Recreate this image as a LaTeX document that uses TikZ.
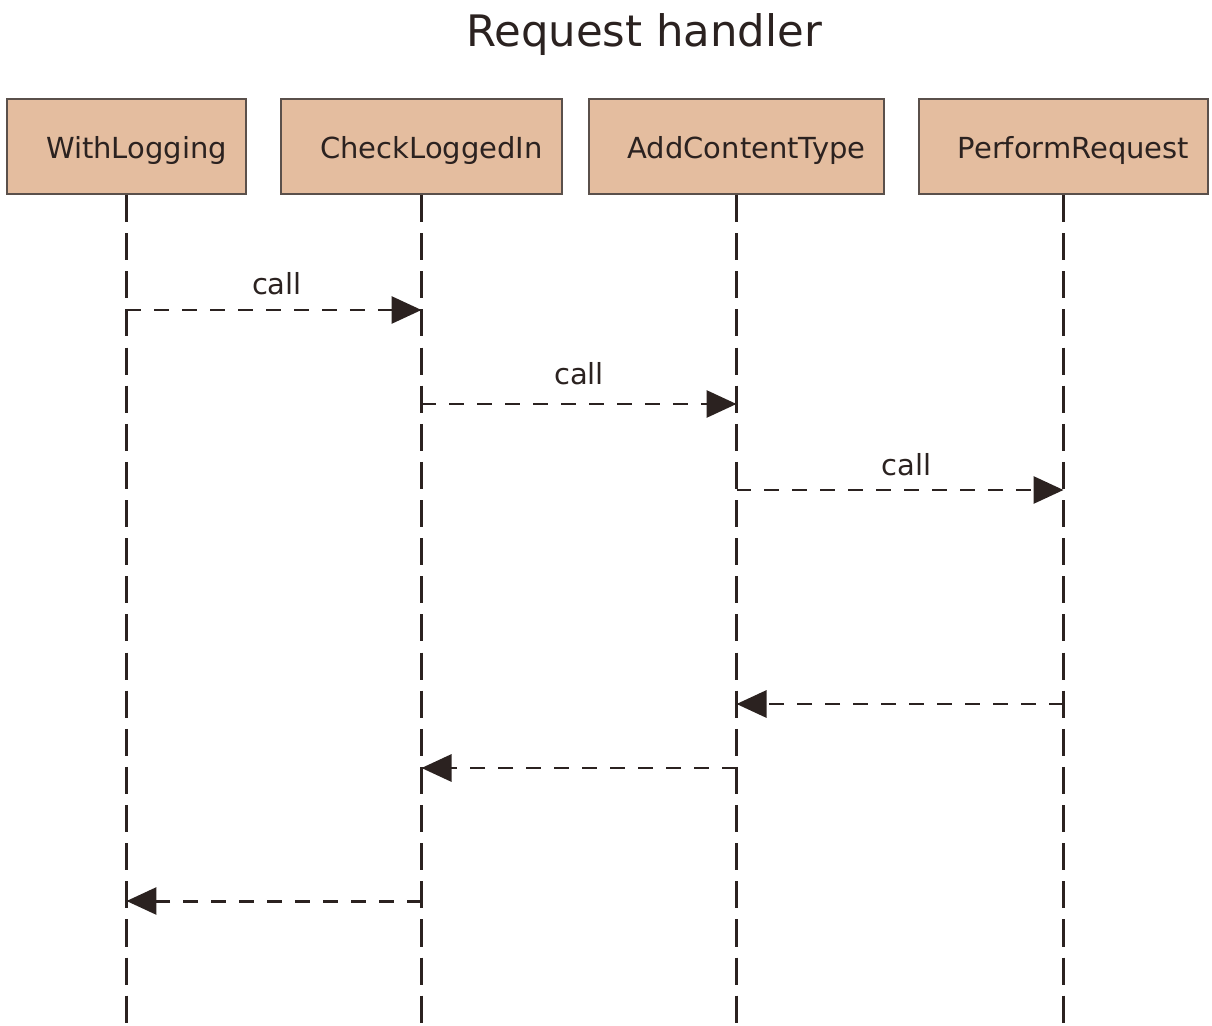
\documentclass[tikz,border=0pt]{standalone}
\usepackage{fontspec}
\setmainfont{DejaVu Sans}
\usetikzlibrary{arrows.meta}
\definecolor{boxfill}{HTML}{E4BD9F}
\definecolor{boxline}{HTML}{5A504B}
\definecolor{ink}{HTML}{2B2220}
\begin{document}
\begin{tikzpicture}[x=0.02cm, y=-0.02cm,
	actor/.style={fill=boxfill, draw=boxline, line width=1.2pt, minimum height=1.9cm, inner sep=0pt,
		text height=0.55cm, text depth=0.05cm,
		execute at begin node=\hspace*{0.4cm}, font=\fontsize{16.5}{20}\selectfont, text=ink},
	lifeline/.style={draw=ink, line width=1.6pt, dash pattern=on 15.4pt off 6.3pt},
	msg/.style={draw=ink, line width=1.7pt, dash pattern=on 8.5pt off 7.4pt, -{Triangle[length=0.6cm, width=0.54cm]}},
	callnote/.style={font=\fontsize{16.5}{20}\selectfont, text=ink, anchor=base}]
%			\draw[help lines] (0,0) grid (1212,1026);
			\useasboundingbox (0,0) rectangle (1212,1026);
			\node[font=\fontsize{24.7}{30}\selectfont, text=ink, anchor=base] (title) at (644, 47) {Request handler};
			\node[actor, minimum width=4.78cm] (logging) at (126.5, 146.5) {WithLogging};
			\node[actor, minimum width=5.62cm] (checklogin) at (421.5, 146.5) {CheckLoggedIn};
			\node[actor, minimum width=5.9cm] (contenttype) at (736.5, 146.5) {AddContentType};
			\node[actor, minimum width=5.78cm] (perform) at (1063.5, 146.5) {PerformRequest};
			\coordinate (bottom) at (0, 1026);
			\draw[lifeline] (logging.south) -- (logging.south |- bottom);
			\draw[lifeline] (checklogin.south) -- (checklogin.south |- bottom);
			\draw[lifeline] (contenttype.south) -- (contenttype.south |- bottom);
			\draw[lifeline] (perform.south) -- (perform.south |- bottom);
			\coordinate (m1) at (0, 310);
			\coordinate (m2) at (0, 404);
			\coordinate (m3) at (0, 490);
			\coordinate (r1) at (0, 704);
			\coordinate (r2) at (0, 768);
			\coordinate (r3) at (0, 901);
			\draw[msg] (logging |- m1) -- node [callnote, pos=0.51, yshift=0.3cm] (call1) {call} (checklogin |- m1);
			\draw[msg] (checklogin |- m2) -- node [callnote, pos=0.5, yshift=0.4cm] (call2) {call} (contenttype |- m2);
			\draw[msg] (contenttype |- m3) -- node [callnote, pos=0.52, yshift=0.3cm] (call3) {call} (perform |- m3);
			\draw[msg] (perform |- r1) -- (contenttype |- r1);
			\draw[msg] (contenttype |- r2) -- (checklogin |- r2);
			\draw[msg] (checklogin |- r3) -- (logging |- r3);
\end{tikzpicture}
\end{document}
